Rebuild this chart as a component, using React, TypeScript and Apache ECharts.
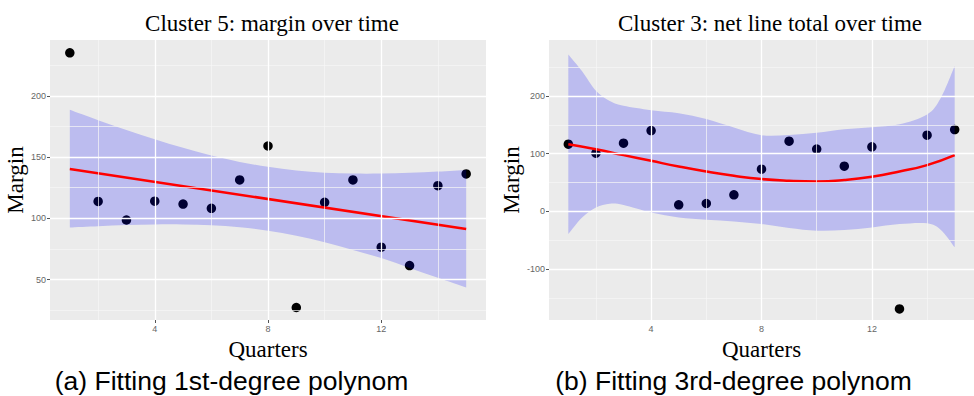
import React, { useEffect, useRef } from "react";
import * as echarts from "echarts";

// ---------- Panel (a): Cluster 5 ----------
const quarters = [1, 2, 3, 4, 5, 6, 7, 8, 9, 10, 11, 12, 13, 14, 15];
const marginA = [235, 113.8, 98.6, 114, 111.6, 108.1, 131.3, 159, 27.2, 113, 131.3, 76.4, 61.4, 126.6, 136.2];
const fitXA = [1, 15];
const fitYA = [140.2, 91.3];
const bandXA = [1, 2, 3, 4, 5, 6, 7, 8, 9, 10, 11, 12, 13, 14, 15];
const bandUpperA = [188.5, 180, 172, 164.5, 157.5, 151.2, 146, 142, 139, 137.2, 136.5, 136.5, 137.1, 138.1, 139.5];
const bandLowerA = [92.5, 93.5, 94.5, 95, 95, 94.4, 92.7, 89.8, 85.7, 80.4, 74.1, 67.5, 59.5, 51.5, 43.5];

// ---------- Panel (b): Cluster 3 ----------
const marginB = [116.6, 101, 118.3, 140.1, 11.6, 13.8, 28.9, 73.3, 121.8, 108, 78.5, 111.9, -168.9, 132.2, 141.9];
const fitYB = [116.6, 107.9, 97.6, 87.7, 77.9, 69.2, 61.8, 56.1, 53.1, 51.9, 54.3, 60, 69.2, 80.3, 97.6];
const bandXB = [1, 1.5, 2, 2.5, 3, 4, 5, 6, 7, 8, 9, 10, 11, 12, 13, 14, 14.5, 15];
const bandUpperB = [272, 243, 209, 191.5, 183, 175.4, 170.2, 160, 145.3, 132, 132.5, 136.5, 142.6, 146, 151, 168, 197, 252];
const bandLowerB = [-39, -10.4, 6.9, 13.5, 11.3, -1.7, -10.4, -14.4, -17.3, -21.8, -28.7, -33.4, -32.2, -27.7, -21.8, -20.5, -32, -62];

// ---------- Axes ----------
const xTicks = [4, 8, 12];
const xMinor = [2, 6, 10, 14];
const yTicksA = [50, 100, 150, 200];
const yMinorA = [25, 75, 125, 175, 225];
const yTicksB = [-100, 0, 100, 200];
const yMinorB = [-150, -50, 50, 150, 250];

const titles = ["Cluster 5: margin over time", "Cluster 3: net line total over time"];
const captions = ["(a) Fitting 1st-degree polynom", "(b) Fitting 3rd-degree polynom"];

const SERIF = "'Liberation Serif', 'Times New Roman', serif";
const SANS = "'Liberation Sans', Arial, sans-serif";

function smoothPath(pts: number[][], move: boolean): string {
  let d = (move ? "M" : "L") + pts[0][0] + "," + pts[0][1];
  const t = 1 / 6;
  for (let i = 0; i < pts.length - 1; i++) {
    const p0 = pts[i - 1] || pts[i];
    const p1 = pts[i];
    const p2 = pts[i + 1];
    const p3 = pts[i + 2] || p2;
    const c1 = [p1[0] + (p2[0] - p0[0]) * t, p1[1] + (p2[1] - p0[1]) * t];
    const c2 = [p2[0] - (p3[0] - p1[0]) * t, p2[1] - (p3[1] - p1[1]) * t];
    d += " C" + c1[0] + "," + c1[1] + " " + c2[0] + "," + c2[1] + " " + p2[0] + "," + p2[1];
  }
  return d;
}

function gridLines(xMaj: number[], xMin: number[], yMaj: number[], yMin: number[]) {
  const maj = { color: "#ffffff", width: 1.3, type: "solid" as const };
  const min = { color: "#f7f7f7", width: 0.7, type: "solid" as const };
  return [
    ...xMin.map((v) => ({ xAxis: v, lineStyle: min })),
    ...yMin.map((v) => ({ yAxis: v, lineStyle: min })),
    ...xMaj.map((v) => ({ xAxis: v, lineStyle: maj })),
    ...yMaj.map((v) => ({ yAxis: v, lineStyle: maj })),
  ];
}

function panelSeries(
  idx: number,
  ys: number[],
  fitX: number[],
  fitY: number[],
  bandX: number[],
  upper: number[],
  lower: number[],
  yMaj: number[],
  yMin: number[],
  smooth: boolean
) {
  return [
    {
      type: "line",
      xAxisIndex: idx,
      yAxisIndex: idx,
      data: [[quarters[0], ys[0]]],
      symbol: "none",
      lineStyle: { opacity: 0 },
      silent: true,
      z: 1,
      markLine: {
        silent: true,
        symbol: ["none", "none"],
        label: { show: false },
        animation: false,
        emphasis: { disabled: true },
        data: gridLines(xTicks, xMinor, yMaj, yMin),
      },
    },
    {
      type: "scatter",
      xAxisIndex: idx,
      yAxisIndex: idx,
      data: quarters.map((q, k) => [q, ys[k]]),
      symbolSize: 9.5,
      itemStyle: { color: "#000000", opacity: 1 },
      z: 2,
    },
    {
      type: "custom",
      xAxisIndex: idx,
      yAxisIndex: idx,
      data: [[bandX[0], upper[0]]],
      z: 3,
      silent: true,
      renderItem: (params: any, api: any) => {
        const up = bandX.map((x, k) => api.coord([x, upper[k]]));
        const lo = bandX.map((x, k) => api.coord([x, lower[k]])).reverse();
        const d = smoothPath(up, true) + " " + smoothPath(lo, false) + " Z";
        return {
          type: "path",
          shape: { pathData: d },
          style: { fill: "rgba(0,0,255,0.2)", stroke: "none" },
        };
      },
    },
    {
      type: "line",
      xAxisIndex: idx,
      yAxisIndex: idx,
      data: fitX.map((x, k) => [x, fitY[k]]),
      symbol: "none",
      smooth: smooth,
      lineStyle: { color: "#ff0000", width: 2.5 },
      z: 4,
    },
  ];
}

function makeX(idx: number) {
  return {
    type: "value",
    gridIndex: idx,
    min: 0.3,
    max: 15.7,
    name: "Quarters",
    nameLocation: "middle",
    nameGap: 13,
    nameTextStyle: { fontFamily: SERIF, fontSize: 23, color: "#000" },
    axisLine: { show: false },
    axisTick: { show: true, length: 3, lineStyle: { color: "#555", width: 1 }, customValues: xTicks },
    axisLabel: { customValues: xTicks, fontSize: 9, color: "#666", margin: 4, fontFamily: SANS },
    splitLine: { show: false },
  };
}

function makeY(idx: number, min: number, max: number, ticks: number[]) {
  return {
    type: "value",
    gridIndex: idx,
    min,
    max,
    name: "Margin",
    nameLocation: "middle",
    nameRotate: 90,
    nameGap: 21,
    nameTextStyle: { fontFamily: SERIF, fontSize: 23, color: "#000" },
    axisLine: { show: false },
    axisTick: { show: true, length: 3, lineStyle: { color: "#555", width: 1 }, customValues: ticks },
    axisLabel: { customValues: ticks, fontSize: 9, color: "#666", margin: 4, fontFamily: SANS },
    splitLine: { show: false },
  };
}

export default function App() {
  const ref = useRef<HTMLDivElement>(null);
  useEffect(() => {
    const chart = echarts.init(ref.current as HTMLDivElement, null, { renderer: "svg" });
    const option: any = {
      animation: false,
      backgroundColor: "#ffffff",
      grid: [
        { left: 50, top: 40, width: 436, height: 280, show: true, backgroundColor: "#EBEBEB", borderWidth: 0 },
        { left: 549, top: 40, width: 433, height: 280, show: true, backgroundColor: "#EBEBEB", borderWidth: 0 },
      ],
      xAxis: [makeX(0), makeX(1)],
      yAxis: [makeY(0, 17, 245.5, yTicksA), makeY(1, -188, 297, yTicksB)],
      series: [
        ...panelSeries(0, marginA, fitXA, fitYA, bandXA, bandUpperA, bandLowerA, yTicksA, yMinorA, false),
        ...panelSeries(1, marginB, quarters, fitYB, bandXB, bandUpperB, bandLowerB, yTicksB, yMinorB, true),
      ],
      graphic: [
        { type: "text", x: 272, y: 23, style: { text: titles[0], font: "23px " + SERIF, fill: "#000", align: "center", verticalAlign: "middle" } },
        { type: "text", x: 770, y: 23, style: { text: titles[1], font: "23px " + SERIF, fill: "#000", align: "center", verticalAlign: "middle" } },
        { type: "text", x: 231.5, y: 381, style: { text: captions[0], font: "26.5px " + SANS, fill: "#000", align: "center", verticalAlign: "middle" } },
        { type: "text", x: 733.5, y: 381, style: { text: captions[1], font: "26.5px " + SANS, fill: "#000", align: "center", verticalAlign: "middle" } },
      ],
    };
    chart.setOption(option);
    return () => chart.dispose();
  }, []);
  return (
    <div
      ref={ref}
      style={{ position: "absolute", left: 0, top: 0, width: 974, height: 396, overflow: "hidden", background: "#fff" }}
    />
  );
}
